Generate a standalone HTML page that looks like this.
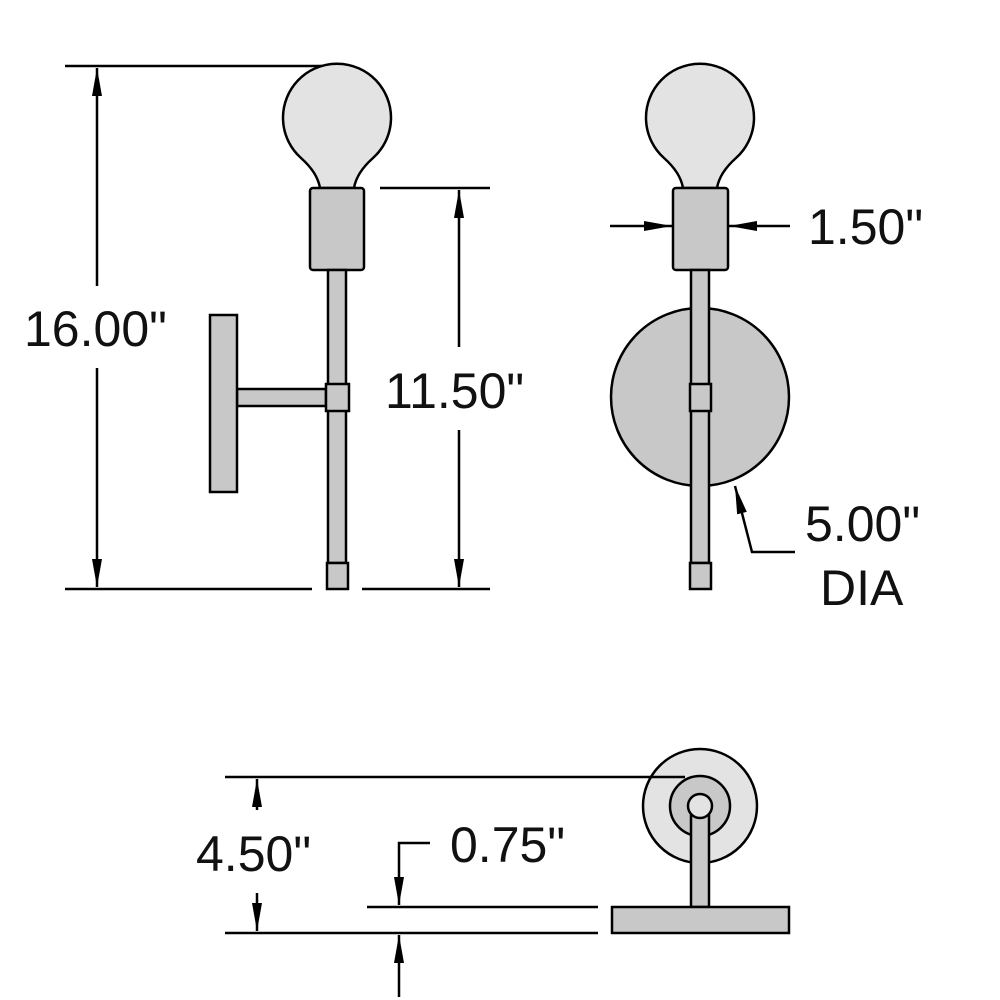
<!DOCTYPE html>
<html><head><style>body{margin:0;background:#fff}svg{display:block}text{font-family:"Liberation Sans",Arial,sans-serif;font-size:50px;fill:#111}</style></head><body>
<svg width="1000" height="1000" viewBox="0 0 1000 1000">
<defs>
<marker id="b" viewBox="0 0 28 10" refX="28" refY="5" markerWidth="28" markerHeight="10" markerUnits="userSpaceOnUse" orient="auto"><path d="M0,0 L28,5 L0,10 Z" fill="#000"/></marker></defs>
<g stroke="#000" stroke-width="2.5" fill="none">
<line x1="65" y1="66" x2="322" y2="66"/>
<line x1="65" y1="589" x2="312" y2="589"/>
<line x1="97" y1="286" x2="97" y2="68" marker-end="url(#b)"/>
<line x1="97" y1="368" x2="97" y2="587" marker-end="url(#b)"/>
<line x1="380" y1="188" x2="490" y2="188"/>
<line x1="362" y1="589" x2="490" y2="589"/>
<line x1="459" y1="347" x2="459" y2="190" marker-end="url(#b)"/>
<line x1="459" y1="430" x2="459" y2="587" marker-end="url(#b)"/>
</g>
<g stroke="#000" stroke-width="2.5">
<path d="M320,188 C318,176 310,166 301,158 A54,54 0 1 1 373,158 C364,166 356,176 354,188 Z" fill="#e3e3e3"/>
<rect x="310" y="188" width="54" height="82" rx="3" fill="#c8c8c8"/>
<rect x="328" y="270" width="18" height="293" fill="#c8c8c8"/>
<rect x="237" y="389" width="89" height="17" fill="#c8c8c8"/>
<rect x="210" y="315" width="27" height="177" fill="#c8c8c8"/>
<rect x="326" y="384" width="23" height="27" fill="#c8c8c8"/>
<rect x="327" y="563" width="21" height="26" fill="#c8c8c8"/>
<path d="M683,188 C681,176 673,166 664,158 A54,54 0 1 1 736,158 C727,166 719,176 717,188 Z" fill="#e3e3e3"/>
<rect x="673" y="188" width="55" height="82" rx="3" fill="#c8c8c8"/>
<circle cx="700" cy="397" r="89" fill="#c8c8c8"/>
<rect x="691" y="270" width="18" height="293" fill="#c8c8c8"/>
<rect x="690" y="384" width="21" height="27" fill="#c8c8c8"/>
<rect x="690" y="563" width="21" height="26" fill="#c8c8c8"/>
<circle cx="700" cy="806" r="57" fill="#e3e3e3"/>
<circle cx="700" cy="806" r="30" fill="#c8c8c8"/>
<rect x="691" y="806" width="18" height="101" fill="#c8c8c8"/>
<circle cx="700" cy="806" r="12" fill="#e3e3e3"/>
<rect x="612" y="907" width="177" height="26" fill="#c8c8c8"/>
</g>
<g stroke="#000" stroke-width="2.5" fill="none">
<line x1="610" y1="226" x2="672" y2="226" marker-end="url(#b)"/>
<line x1="790" y1="226" x2="729" y2="226" marker-end="url(#b)"/>
<polyline points="795,552 752,552 735,486" marker-end="url(#b)"/>
<line x1="225" y1="777" x2="685" y2="777"/>
<line x1="225" y1="933" x2="598" y2="933"/>
<line x1="367" y1="907" x2="598" y2="907"/>
<line x1="257" y1="810" x2="257" y2="779" marker-end="url(#b)"/>
<line x1="257" y1="893" x2="257" y2="931" marker-end="url(#b)"/>
<polyline points="430,843 399,843 399,905" marker-end="url(#b)"/>
<line x1="399" y1="997" x2="399" y2="935" marker-end="url(#b)"/>
</g>
<text x="24" y="346">16.00"</text>
<text x="385" y="408">11.50"</text>
<text x="808" y="244">1.50"</text>
<text x="805" y="541">5.00"</text>
<text x="820" y="605">DIA</text>
<text x="196" y="871">4.50"</text>
<text x="450" y="862">0.75"</text>
</svg>
</body></html>
